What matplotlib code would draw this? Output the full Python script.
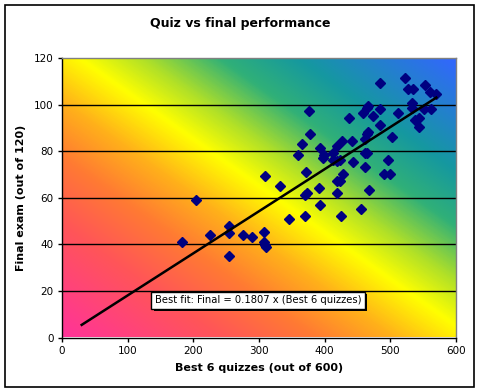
import matplotlib
matplotlib.use("Agg")
import matplotlib.pyplot as plt
import numpy as np
from matplotlib.colors import LinearSegmentedColormap
from matplotlib.patches import Rectangle
import matplotlib.patheffects as pe

# Data
quiz = [309, 371, 332, 203.5, 369.4, 373.5, 345, 369.4, 254, 225, 254, 275.5, 288.7,
        307.5, 182.2, 307.5, 309, 310.5, 254, 365.8, 392.7, 419, 425.7, 441.4, 359.2,
        398.8, 397.3, 412.5, 413, 419, 423, 461, 465, 443, 461, 496, 427.7, 490, 499,
        391, 419, 423, 467, 418.6, 392.7, 454.6, 424.7, 522, 552.5, 526.6, 534.2, 560,
        569, 484, 532.3, 532.3, 511.4, 551, 562.3, 484, 543.4, 537.3, 543.4, 484, 503,
        376, 465.8, 463.8, 458.2, 473.4, 436.8, 377.5, 465.8, 463.8, 461.8]
final = [69.5, 71.2, 65.2, 59.1, 61.3, 62.0, 50.8, 52.3, 48, 44.1, 44.8, 44.1, 43.1,
         45.1, 41.1, 41.1, 39.8, 38.8, 35, 83.1, 81.4, 82.4, 84.2, 84.2, 78.5,
         78.5, 77.1, 79.2, 76.3, 75.6, 76, 79.2, 79.2, 75.4, 73.2, 76.3, 70.3, 70.3, 70.3,
         64.2, 67.3, 67.3, 63.4, 62.2, 57, 55.3, 52.1, 111.6, 108.5, 106.5, 106.5, 105.6,
         104.7, 109.4, 100.7, 98.6, 96.4, 98.2, 98.2, 98.2, 94.2, 93.5, 90.4, 91.4, 86.1,
         97.4, 99.6, 98.6, 96.4, 95.3, 94.3, 87.5, 88.3, 87.5, 85.4]
fit_slope = 0.1807
fit_x = np.array([30, 570])
x_ticks = [0, 100, 200, 300, 400, 500, 600]
y_ticks = [0, 20, 40, 60, 80, 100, 120]
title = "Quiz vs final performance"
xlabel = "Best 6 quizzes (out of 600)"
ylabel = "Final exam (out of 120)"
fit_label = "Best fit: Final = 0.1807 x (Best 6 quizzes)"

fig = plt.figure(figsize=(4.8, 3.92), dpi=100)
fig.patch.set_facecolor("white")
ax = fig.add_axes([62/480, 1-337.5/392, 394/480, 279.5/392])

# diagonal gradient background
cmap = LinearSegmentedColormap.from_list("bg", [
    (0.0, "#FF3399"), (0.2, "#FF5558"), (0.32, "#FF7A33"), (0.42, "#FFB01A"),
    (0.52, "#FFFF00"), (0.6, "#B0E028"), (0.7, "#30B078"), (0.8, "#1598A0"),
    (1.0, "#3366FF")])
n = 300
u, v = np.meshgrid(np.linspace(0, 1, n), np.linspace(0, 1, n))
grad = (u + v) / 2
ax.imshow(grad, cmap=cmap, vmin=0, vmax=1, origin="lower", extent=[0, 1, 0, 1],
          transform=ax.transAxes, aspect="auto", zorder=0, interpolation="bilinear")

ax.set_xlim(0, 600)
ax.set_ylim(0, 120)
for yv in y_ticks[1:-1]:
    ax.axhline(yv, color="black", lw=1.0, zorder=1)

ax.plot(quiz, final, linestyle="none", marker="D", markersize=4.6,
        color="#000080", zorder=3)
ax.plot(fit_x, fit_slope * fit_x, color="black", lw=1.8, zorder=4)

ax.set_xticks(x_ticks)
ax.set_yticks(y_ticks)
ax.tick_params(direction="out", length=3, width=1, labelsize=7.5, color="black", pad=3)
for s in ["left", "bottom"]:
    ax.spines[s].set_color("black")
    ax.spines[s].set_linewidth(1)
for s in ["top", "right"]:
    ax.spines[s].set_color("#808080")
    ax.spines[s].set_linewidth(1)

ax.set_xlabel(xlabel, fontsize=8, fontweight="bold", labelpad=5)
ax.set_ylabel(ylabel, fontsize=8, fontweight="bold", labelpad=6)
fig.text(0.5, 1-23/392, title, ha="center", va="center", fontsize=9, fontweight="bold")

t = ax.text(0.497, 0.134, fit_label, transform=ax.transAxes, ha="center", va="center",
            fontsize=7.2, zorder=6,
            bbox=dict(boxstyle="square,pad=0.35", facecolor="white", edgecolor="black", lw=1))
t.get_bbox_patch().set_path_effects([
    pe.SimplePatchShadow(offset=(2, -2), shadow_rgbFace="black", alpha=1), pe.Normal()])

fig.patches.append(Rectangle((5/480, 1-387/392), 469/480, 382/392, transform=fig.transFigure,
                             fill=False, edgecolor="black", lw=1.2))

fig.savefig("out.png", dpi=100)
